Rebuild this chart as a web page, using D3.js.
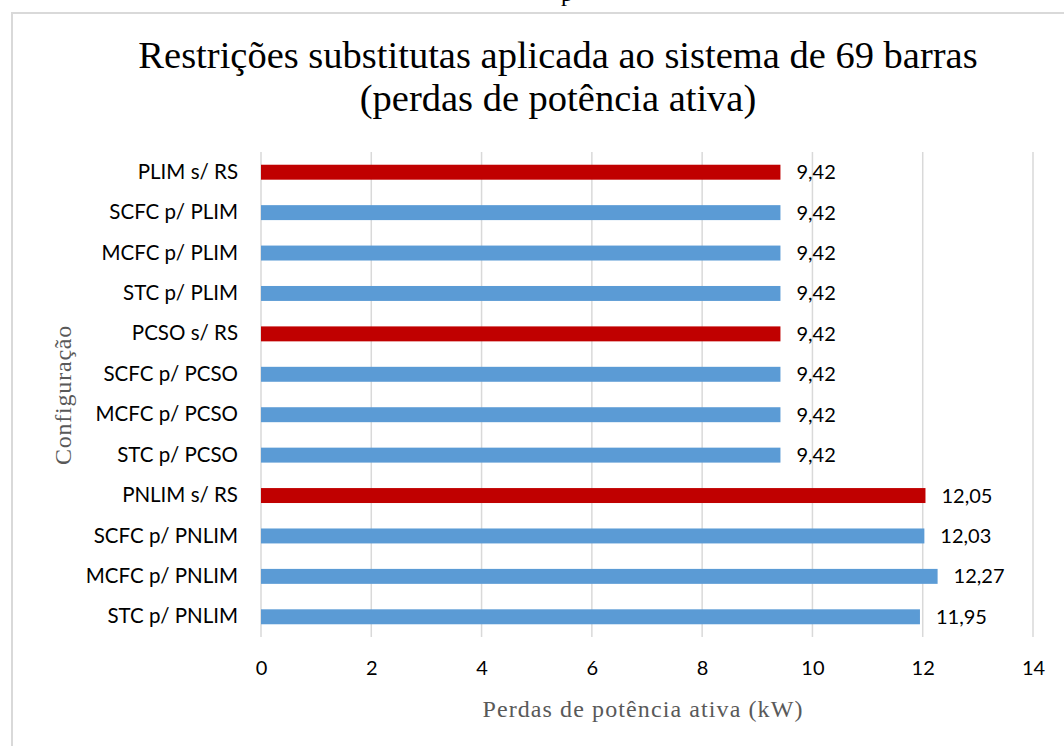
<!DOCTYPE html>
<html><head><meta charset="utf-8">
<script src="https://cdn.jsdelivr.net/npm/d3@7"></script>
<style>html,body{margin:0;padding:0;background:#fff;}svg{display:block;}</style>
</head><body>
<svg id="chart" width="1064" height="746"></svg>
<script>
const categories = ["PLIM s/ RS","SCFC p/ PLIM","MCFC p/ PLIM","STC p/ PLIM","PCSO s/ RS","SCFC p/ PCSO","MCFC p/ PCSO","STC p/ PCSO","PNLIM s/ RS","SCFC p/ PNLIM","MCFC p/ PNLIM","STC p/ PNLIM"];
const values = [9.42,9.42,9.42,9.42,9.42,9.42,9.42,9.42,12.05,12.03,12.27,11.95];
const labels = ["9,42","9,42","9,42","9,42","9,42","9,42","9,42","9,42","12,05","12,03","12,27","11,95"];
const isBaseline = [true,false,false,false,true,false,false,false,true,false,false,false];
const xTicks = [0,2,4,6,8,10,12,14];
const titleLines = ["Restrições substitutas aplicada ao sistema de 69 barras","(perdas de potência ativa)"];
const xTitle = "Perdas de potência ativa (kW)";
const yTitle = "Configuração";

const svg = d3.select("#chart");
const sans = "Lato, 'Open Sans', sans-serif";
const serif = "'Liberation Serif', 'Times New Roman', serif";

// chart border
svg.append("path").attr("d","M12,746 L12,13 L1064,13").attr("fill","none").attr("stroke","#D9D9D9").attr("stroke-width",2);
// cut-off glyph at top (descender of text above the frame)
svg.append("text").attr("x",567).attr("y",1).attr("text-anchor","middle").attr("font-family",serif).attr("font-size",24).text("p");

const x = d3.scaleLinear().domain([0,14]).range([261,1033]);
const y = d3.scaleBand().domain(categories).range([152,637]).paddingInner(0.63).paddingOuter(0.315);

// gridlines
svg.append("g").selectAll("line").data(xTicks).join("line")
  .attr("x1",d=>x(d)).attr("x2",d=>x(d)).attr("y1",152).attr("y2",637)
  .attr("stroke","#D9D9D9").attr("stroke-width",1.5);

// bars
svg.append("g").selectAll("rect").data(categories).join("rect")
  .attr("x",x(0)).attr("y",d=>y(d)).attr("height",y.bandwidth())
  .attr("width",(d,i)=>x(values[i])-x(0))
  .attr("fill",(d,i)=>isBaseline[i]?"#C00000":"#5B9BD5");

// value labels
svg.append("g").selectAll("text").data(categories).join("text")
  .attr("x",(d,i)=>x(values[i])+16).attr("y",d=>y(d)+y.bandwidth()/2)
  .attr("dy","0.35em").attr("font-family",sans).attr("font-size",20).attr("fill","#000")
  .text((d,i)=>labels[i]);

// y axis (category labels)
const yAxis = d3.axisLeft(y).tickSize(0).tickPadding(23);
const gy = svg.append("g").attr("transform",`translate(${x(0)},0)`).call(yAxis);
gy.select(".domain").remove();
gy.selectAll("text").attr("font-family",sans).attr("font-size",20.5).attr("fill","#000");

// x axis
const xAxis = d3.axisBottom(x).tickValues(xTicks).tickSize(0).tickPadding(24).tickFormat(d3.format("d"));
const gx = svg.append("g").attr("transform","translate(0,637)").call(xAxis);
gx.select(".domain").remove();
gx.selectAll("text").attr("font-family",sans).attr("font-size",20).attr("fill","#000");

// titles
svg.append("g").selectAll("text").data(titleLines).join("text")
  .attr("x",558).attr("y",(d,i)=>68+i*43).attr("text-anchor","middle")
  .attr("font-family",serif).attr("font-size",38.5).attr("fill","#000").text(d=>d);

svg.append("text").attr("x",643).attr("y",717).attr("text-anchor","middle")
  .attr("font-family",serif).attr("font-size",24).attr("letter-spacing",1.1).attr("fill","#595959").text(xTitle);

svg.append("text").attr("transform","translate(71,395) rotate(-90)").attr("text-anchor","middle")
  .attr("font-family",serif).attr("font-size",24).attr("letter-spacing",0.8).attr("fill","#595959").text(yTitle);
</script>
</body></html>
